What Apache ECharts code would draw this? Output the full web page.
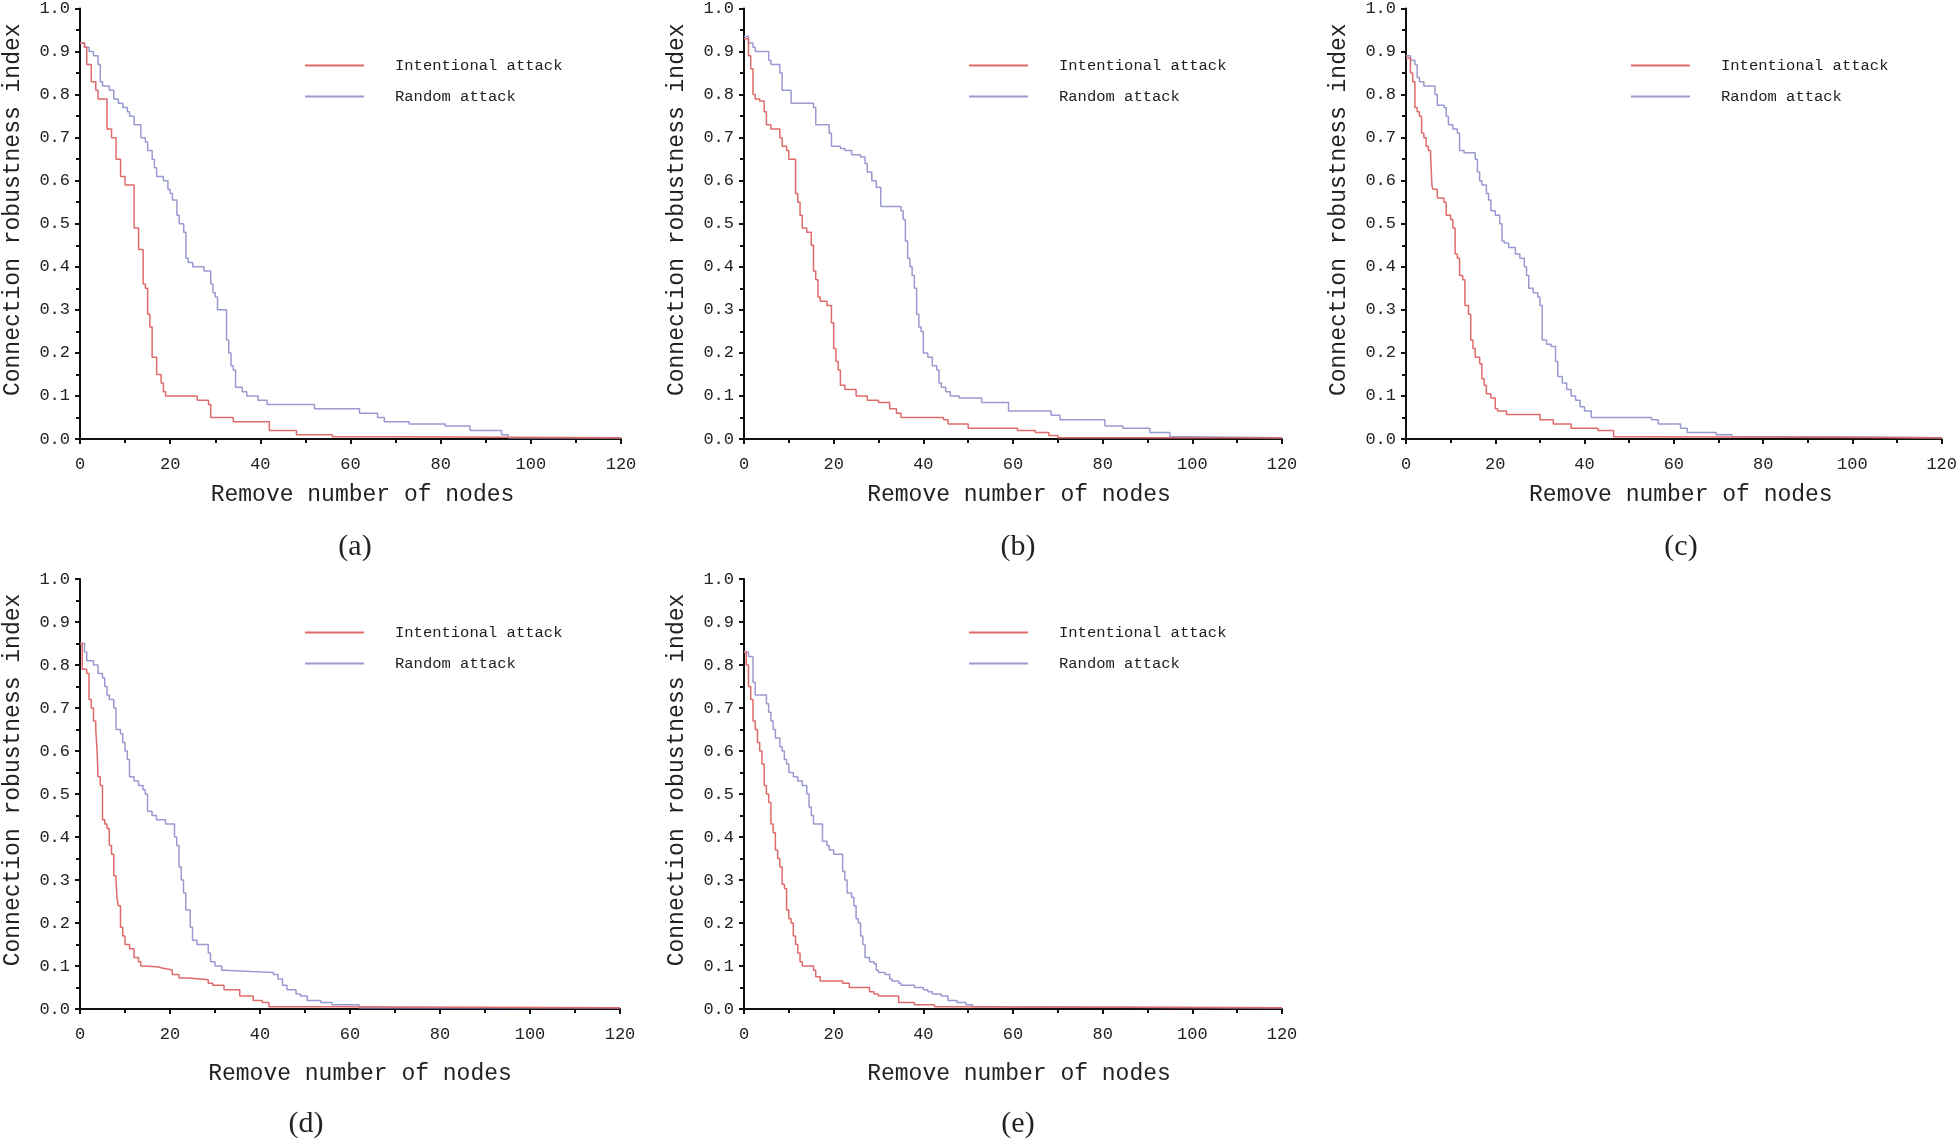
<!DOCTYPE html>
<html>
<head>
<meta charset="utf-8">
<script src="https://cdn.jsdelivr.net/npm/echarts@6/dist/echarts.min.js"></script>
<style>
html,body{margin:0;padding:0;background:#fff;}
#chart{width:1960px;height:1142px;}
</style>
</head>
<body>
<div id="chart"></div>
<script>
// ---- Data (step breakpoints: [nodes removed, robustness index]) ----
const seriesNames = ['Intentional attack', 'Random attack'];
const panelLabels = ['(a)', '(b)', '(c)', '(d)', '(e)'];
const xTicks = [0, 20, 40, 60, 80, 100, 120];
const yTicks = [0.0, 0.1, 0.2, 0.3, 0.4, 0.5, 0.6, 0.7, 0.8, 0.9, 1.0];

const aIntentional = [[0,0.92],[1,0.91],[1.5,0.87],[2.5,0.83],[3.5,0.81],[4,0.79],[6,0.72],[7,0.70],[8,0.65],[9,0.61],[10,0.59],[12,0.49],[13,0.44],[14,0.36],[14.5,0.35],[15,0.29],[15.5,0.26],[16,0.19],[17,0.15],[18,0.13],[18.5,0.11],[19,0.10],[26,0.09],[28.5,0.08],[29,0.05],[34,0.04],[42,0.02],[48,0.01],[56,0.005],[70,0.003],[120,0.003]];
const aRandom = [[0,0.92],[1,0.91],[2,0.90],[3,0.89],[4,0.87],[4.5,0.83],[5,0.82],[6.5,0.81],[7.5,0.79],[8.5,0.78],[9.5,0.77],[10.5,0.76],[11,0.75],[12,0.73],[13.5,0.70],[14.5,0.69],[15,0.67],[16,0.65],[16.5,0.63],[17,0.61],[18.5,0.60],[19.5,0.58],[20,0.57],[20.5,0.555],[21.5,0.52],[22,0.50],[23,0.48],[23.5,0.42],[24,0.41],[25,0.40],[27.5,0.39],[29,0.36],[29.5,0.34],[30,0.33],[30.5,0.30],[32.5,0.23],[33,0.20],[33.5,0.17],[34,0.16],[34.5,0.12],[36,0.11],[37,0.10],[39.5,0.09],[41.5,0.08],[52,0.07],[62,0.06],[66,0.05],[67.5,0.04],[73,0.035],[81,0.03],[86.5,0.02],[93.5,0.01],[95,0.003],[120,0.003]];

const bIntentional = [[0,0.93],[1,0.89],[1.5,0.86],[2,0.80],[2.5,0.79],[3.5,0.785],[4.5,0.76],[5,0.73],[6,0.72],[8,0.70],[8.5,0.68],[9.5,0.67],[10,0.65],[11.5,0.57],[12,0.55],[12.5,0.52],[13,0.49],[14,0.48],[15,0.45],[15.5,0.39],[16,0.37],[16.5,0.33],[17,0.32],[18.5,0.31],[19.5,0.27],[20,0.21],[20.5,0.18],[21,0.16],[21.5,0.125],[22.5,0.115],[25,0.10],[27.5,0.09],[30,0.085],[32.5,0.07],[34,0.06],[35,0.05],[44.5,0.045],[45.5,0.035],[50,0.025],[61,0.02],[65,0.015],[68,0.008],[70,0.003],[120,0.003]];
const bRandom = [[0,0.935],[1,0.92],[2,0.91],[2.5,0.90],[5.5,0.88],[6,0.87],[8,0.85],[8.5,0.81],[10.5,0.78],[15.5,0.77],[16,0.73],[19,0.71],[19.5,0.68],[21.5,0.675],[22.5,0.67],[24,0.66],[26,0.655],[27,0.64],[27.5,0.62],[28.5,0.60],[29.5,0.585],[30.5,0.54],[35,0.53],[35.5,0.51],[36,0.46],[36.5,0.42],[37,0.40],[37.5,0.38],[38,0.35],[38.5,0.29],[39,0.26],[39.5,0.25],[40,0.20],[41,0.19],[42,0.17],[43,0.16],[43.5,0.13],[44,0.12],[45,0.11],[46,0.10],[48,0.095],[53,0.085],[59,0.065],[68.5,0.055],[70.5,0.045],[80.5,0.03],[84.5,0.025],[90.5,0.015],[95,0.005],[98.5,0.003],[120,0.003]];

const cIntentional = [[0,0.885],[1,0.85],[1.5,0.83],[2,0.77],[2.5,0.76],[3,0.75],[3.5,0.71],[4,0.70],[4.5,0.68],[5,0.67],[5.5,0.66],[5.8,0.59],[6,0.58],[7,0.56],[8.5,0.55],[9,0.52],[10,0.51],[10.5,0.49],[11,0.43],[11.5,0.42],[12,0.38],[12.7,0.37],[13.2,0.31],[14,0.29],[14.5,0.23],[15,0.21],[15.5,0.19],[16.5,0.175],[17,0.14],[17.5,0.125],[18,0.105],[19,0.095],[20,0.07],[20.5,0.065],[22.5,0.057],[30,0.045],[33,0.035],[37,0.025],[43,0.02],[46.5,0.005],[53,0.003],[120,0.003]];
const cRandom = [[0,0.89],[1,0.88],[2,0.87],[2.5,0.84],[3,0.83],[4,0.82],[6.5,0.80],[7,0.775],[8.5,0.77],[9,0.75],[9.5,0.73],[10.5,0.72],[11.5,0.71],[12,0.67],[13,0.665],[15.5,0.65],[16,0.62],[16.5,0.60],[17,0.59],[18,0.57],[18.5,0.555],[19,0.53],[20,0.52],[21,0.50],[21.5,0.46],[22,0.455],[23,0.445],[24.5,0.43],[25.5,0.42],[26.5,0.40],[27,0.38],[27.5,0.35],[28.5,0.34],[29.5,0.33],[30,0.31],[30.5,0.23],[31.5,0.22],[32.5,0.215],[33.5,0.18],[34,0.145],[35,0.13],[36,0.115],[37,0.10],[38,0.09],[39,0.075],[40,0.065],[41.5,0.05],[55,0.045],[56.5,0.035],[61.5,0.025],[63,0.015],[69.5,0.01],[73,0.005],[95,0.003],[120,0.003]];

const dIntentional = [[0,0.85],[0.5,0.79],[1.5,0.78],[2,0.72],[2.5,0.70],[3,0.67],[3.5,0.65],[3.8,0.60],[4,0.54],[4.5,0.52],[5,0.44],[5.5,0.43],[6,0.42],[6.5,0.38],[7,0.36],[7.5,0.31],[8,0.30],[8.2,0.26],[8.5,0.24],[9,0.19],[9.5,0.17],[10,0.15],[11,0.14],[12,0.12],[13,0.11],[13.5,0.10],[14,0.098],[17,0.095],[18.5,0.092],[20,0.09],[20.5,0.08],[22,0.072],[24,0.068],[28.5,0.06],[29.5,0.055],[32,0.045],[35.5,0.03],[38.5,0.02],[40.5,0.015],[42,0.005],[58,0.003],[120,0.003]];
const dRandom = [[0,0.85],[1,0.83],[1.5,0.81],[3,0.80],[4,0.78],[5,0.77],[5.5,0.75],[6,0.73],[6.5,0.72],[7.5,0.70],[8,0.65],[9,0.64],[9.5,0.62],[10,0.60],[10.5,0.58],[11,0.54],[12,0.53],[13,0.52],[14,0.51],[14.5,0.50],[15,0.46],[16,0.45],[17,0.44],[19,0.43],[21,0.40],[21.5,0.38],[22,0.33],[22.5,0.30],[23,0.27],[23.5,0.23],[24.5,0.19],[25,0.16],[26,0.15],[28.5,0.13],[29,0.11],[30,0.10],[31.5,0.09],[32,0.087],[38,0.085],[43,0.08],[44,0.07],[45,0.055],[46,0.045],[48,0.035],[49,0.03],[50.5,0.02],[53.5,0.015],[56,0.01],[62,0.003],[120,0.003]];

const eIntentional = [[0,0.83],[0.5,0.80],[1,0.75],[1.5,0.72],[2,0.67],[2.5,0.65],[3,0.62],[3.5,0.60],[4,0.57],[4.5,0.52],[5,0.50],[5.5,0.48],[6,0.43],[6.5,0.41],[7,0.37],[7.5,0.35],[8,0.33],[8.5,0.29],[9,0.28],[9.5,0.23],[10,0.21],[10.5,0.20],[11,0.17],[11.5,0.15],[12,0.13],[12.5,0.11],[13,0.10],[15.5,0.09],[16,0.075],[17,0.065],[22,0.06],[23.5,0.05],[28,0.04],[29,0.035],[30,0.03],[34.5,0.015],[38,0.01],[42.5,0.005],[44,0.003],[120,0.003]];
const eRandom = [[0,0.83],[1,0.82],[2,0.76],[2.5,0.73],[5,0.71],[5.5,0.69],[6,0.67],[6.5,0.65],[7,0.63],[8,0.61],[8.5,0.60],[9,0.58],[9.5,0.57],[10,0.55],[11,0.54],[12,0.53],[13,0.52],[14,0.50],[14.5,0.47],[15,0.45],[15.5,0.43],[17.5,0.39],[18.5,0.38],[19,0.37],[20,0.36],[22,0.32],[22.5,0.30],[23,0.27],[24,0.26],[24.5,0.24],[25,0.21],[25.5,0.20],[26,0.17],[26.5,0.15],[27,0.12],[28,0.11],[29,0.105],[29.5,0.09],[30,0.085],[31.5,0.08],[32.5,0.07],[33,0.065],[34.5,0.06],[35,0.055],[38,0.05],[40,0.045],[41,0.04],[42,0.035],[44,0.03],[45.5,0.02],[47.5,0.015],[49.5,0.01],[51,0.005],[54,0.003],[120,0.003]];

const panelData = [
  [aIntentional, aRandom],
  [bIntentional, bRandom],
  [cIntentional, cRandom],
  [dIntentional, dRandom],
  [eIntentional, eRandom]
];

// ---- Layout ----
const MONO = '"Liberation Mono", "DejaVu Sans Mono", monospace';
const SERIF = '"Liberation Serif", "DejaVu Serif", serif';
const RED = '#e06b6b';
const BLUE = '#9a9ad2';

const grids = [
  {left: 80,   top: 7,   width: 541, height: 432},
  {left: 744,  top: 7,   width: 538, height: 432},
  {left: 1406, top: 7,   width: 540, height: 432},
  {left: 80,   top: 579, width: 540, height: 430},
  {left: 744,  top: 579, width: 538, height: 430}
];
const xNameGaps = [44, 44, 44, 53, 53];
const xNameShift = [24, 12, 14, 20, 12];
const labelPos = [[350, 527], [1013, 527], [1676, 527], [301, 1104], [1013, 1104]];
const legendTop = [52, 52, 52, 619, 619];

const option = {
  backgroundColor: '#ffffff',
  animation: false,
  grid: grids,
  title: panelLabels.map((t, i) => ({
    text: t, left: labelPos[i][0], top: labelPos[i][1], textAlign: 'center',
    textStyle: {fontFamily: SERIF, fontSize: 30, fontWeight: 'normal', color: '#222'}
  })),
  legend: grids.map((g, i) => ({
    orient: 'vertical',
    left: g.left + 220,
    top: legendTop[i],
    icon: 'rect',
    itemWidth: 59,
    itemHeight: 2,
    itemGap: 14,
    data: seriesNames,
    textStyle: {fontFamily: MONO, fontSize: 15.5, color: '#222', padding: [0, 0, 0, 26], lineHeight: 17}
  })),
  xAxis: grids.map((g, i) => ({
    type: 'value', gridIndex: i, min: 0, max: 120, interval: 20,
    name: 'Remove number of nodes', nameLocation: 'middle', nameGap: xNameGaps[i],
    nameTextStyle: {fontFamily: MONO, fontSize: 23, color: '#222', padding: [0, 0, 0, xNameShift[i]]},
    axisLine: {show: true, onZero: false, lineStyle: {color: '#111', width: 2}},
    axisTick: {show: true, inside: false, length: 5, lineStyle: {color: '#111', width: 2}},
    minorTick: {show: true, splitNumber: 2, length: 4, lineStyle: {color: '#111', width: 2}},
    splitLine: {show: false},
    axisLabel: {fontFamily: MONO, fontSize: 17, color: '#222', margin: 17,
      formatter: v => xTicks.includes(v) ? String(v) : ''}
  })),
  yAxis: grids.map((g, i) => ({
    type: 'value', gridIndex: i, min: 0, max: 1, interval: 0.1,
    name: 'Connection robustness index', nameLocation: 'middle', nameGap: 56,
    nameTextStyle: {fontFamily: MONO, fontSize: 23, color: '#222', padding: [0, 0, 0, 28]},
    axisLine: {show: true, onZero: false, lineStyle: {color: '#111', width: 2}},
    axisTick: {show: true, inside: false, length: 5, lineStyle: {color: '#111', width: 2}},
    minorTick: {show: true, splitNumber: 2, length: 4, lineStyle: {color: '#111', width: 2}},
    splitLine: {show: false},
    axisLabel: {fontFamily: MONO, fontSize: 17, color: '#222', margin: 10,
      formatter: v => { const t = yTicks.find(y => Math.abs(y - v) < 1e-6); return t === undefined ? '' : t.toFixed(1); }}
  })),
  series: []
};

panelData.forEach((pair, i) => {
  pair.forEach((data, k) => {
    option.series.push({
      name: seriesNames[k],
      type: 'line',
      step: 'end',
      xAxisIndex: i, yAxisIndex: i,
      data: data,
      symbol: 'none',
      lineStyle: {color: k === 0 ? RED : BLUE, width: 1.5},
      itemStyle: {color: k === 0 ? RED : BLUE},
      z: k === 0 ? 3 : 2
    });
  });
});

const chart = echarts.init(document.getElementById('chart'), null, {renderer: 'canvas'});
chart.setOption(option);
</script>
</body>
</html>
